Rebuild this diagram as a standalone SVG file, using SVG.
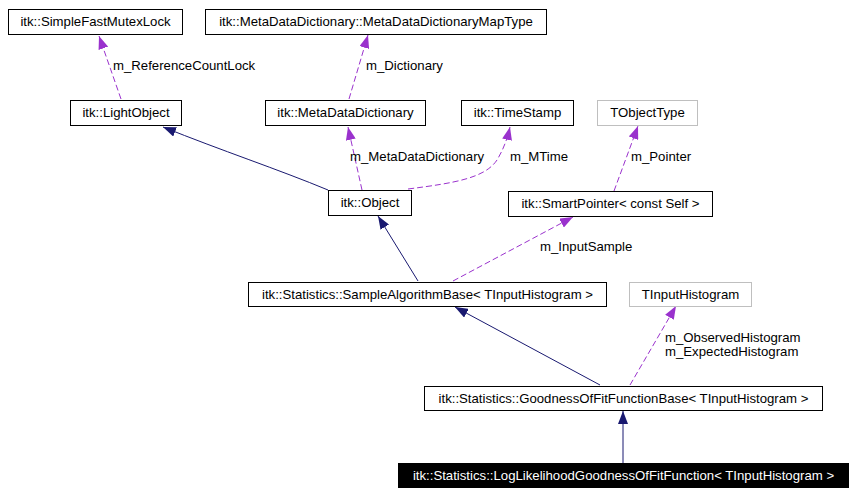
<svg xmlns="http://www.w3.org/2000/svg" width="855" height="495" viewBox="0 0 855 495">
<style>
text{font-family:"Liberation Sans",Arial,sans-serif;font-size:13.2px;fill:#000}
.n rect{fill:#fff;stroke:#000;stroke-width:1}
.n text{text-anchor:middle}
.g rect{stroke:#bfbfbf}
.h rect{fill:#000}
.h text{fill:#fff}
.inh{fill:none;stroke:#191970;stroke-width:1;marker-end:url(#an)}
.use{fill:none;stroke:#9a32cd;stroke-width:1;stroke-dasharray:6,3;marker-end:url(#ap)}
</style>
<defs>
<marker id="an" viewBox="0 0 13 10" refX="13" refY="5" markerWidth="13" markerHeight="10" markerUnits="userSpaceOnUse" orient="auto"><path d="M0,0L13,5L0,10z" fill="#191970"/></marker>
<marker id="ap" viewBox="0 0 13 10" refX="13" refY="5" markerWidth="13" markerHeight="10" markerUnits="userSpaceOnUse" orient="auto"><path d="M0,0L13,5L0,10z" fill="#9a32cd"/></marker>
</defs>
<rect width="855" height="495" fill="#fff"/>
<g id="connectors">
<path class="use" d="M121,99L99,36"/>
<path class="inh" d="M328,190C280,170 220,150 163,127"/>
<path class="use" d="M349,99L368,35"/>
<path class="use" d="M362,190L348,127"/>
<path class="use" d="M408,189C455,183 485,178 497,160C503,150 507,140 510,127"/>
<path class="use" d="M614,191L638,126"/>
<path class="use" d="M453,281L573,217"/>
<path class="inh" d="M418,281L378,216"/>
<path class="inh" d="M600,385L455,307"/>
<path class="use" d="M630,385L676,306"/>
<path class="inh" d="M623,463L623,411"/>
</g>
<g id="labels">
<text x="113" y="70">m_ReferenceCountLock</text>
<text x="366" y="70">m_Dictionary</text>
<text x="350" y="161">m_MetaDataDictionary</text>
<text x="510" y="161">m_MTime</text>
<text x="631" y="161">m_Pointer</text>
<text x="540" y="251">m_InputSample</text>
<text x="665" y="342">m_ObservedHistogram</text>
<text x="665" y="356">m_ExpectedHistogram</text>
</g>
<g id="SimpleFastMutexLock" class="n"><rect x="8.5" y="9.5" width="174" height="25"/><text x="95.5" y="26">itk::SimpleFastMutexLock</text></g>
<g id="MetaDataDictionaryMapType" class="n"><rect x="205.5" y="9.5" width="341" height="25"/><text x="376" y="26">itk::MetaDataDictionary::MetaDataDictionaryMapType</text></g>
<g id="LightObject" class="n"><rect x="70.5" y="100.5" width="111" height="25"/><text x="126" y="117">itk::LightObject</text></g>
<g id="MetaDataDictionary" class="n"><rect x="265.5" y="100.5" width="160" height="25"/><text x="345.5" y="117">itk::MetaDataDictionary</text></g>
<g id="TimeStamp" class="n"><rect x="461.5" y="100.5" width="112" height="25"/><text x="517.5" y="117">itk::TimeStamp</text></g>
<g id="TObjectType" class="n g"><rect x="597.5" y="100.5" width="100" height="25"/><text x="647.5" y="117">TObjectType</text></g>
<g id="Object" class="n"><rect x="328.5" y="190.5" width="83" height="25"/><text x="370" y="207">itk::Object</text></g>
<g id="SmartPointer" class="n"><rect x="508.5" y="191.5" width="204" height="25"/><text x="610.5" y="208">itk::SmartPointer&lt; const Self &gt;</text></g>
<g id="SampleAlgorithmBase" class="n"><rect x="248.5" y="282.5" width="358" height="24"/><text x="427.5" y="299">itk::Statistics::SampleAlgorithmBase&lt; TInputHistogram &gt;</text></g>
<g id="TInputHistogram" class="n g"><rect x="629.5" y="282.5" width="122" height="24"/><text x="690.5" y="299">TInputHistogram</text></g>
<g id="GoodnessOfFitFunctionBase" class="n"><rect x="424.5" y="386.5" width="398" height="24"/><text x="623.5" y="403">itk::Statistics::GoodnessOfFitFunctionBase&lt; TInputHistogram &gt;</text></g>
<g id="LogLikelihoodGoodnessOfFitFunction" class="n h"><rect x="398.5" y="463.5" width="450" height="24"/><text x="623.5" y="480">itk::Statistics::LogLikelihoodGoodnessOfFitFunction&lt; TInputHistogram &gt;</text></g>
</svg>
